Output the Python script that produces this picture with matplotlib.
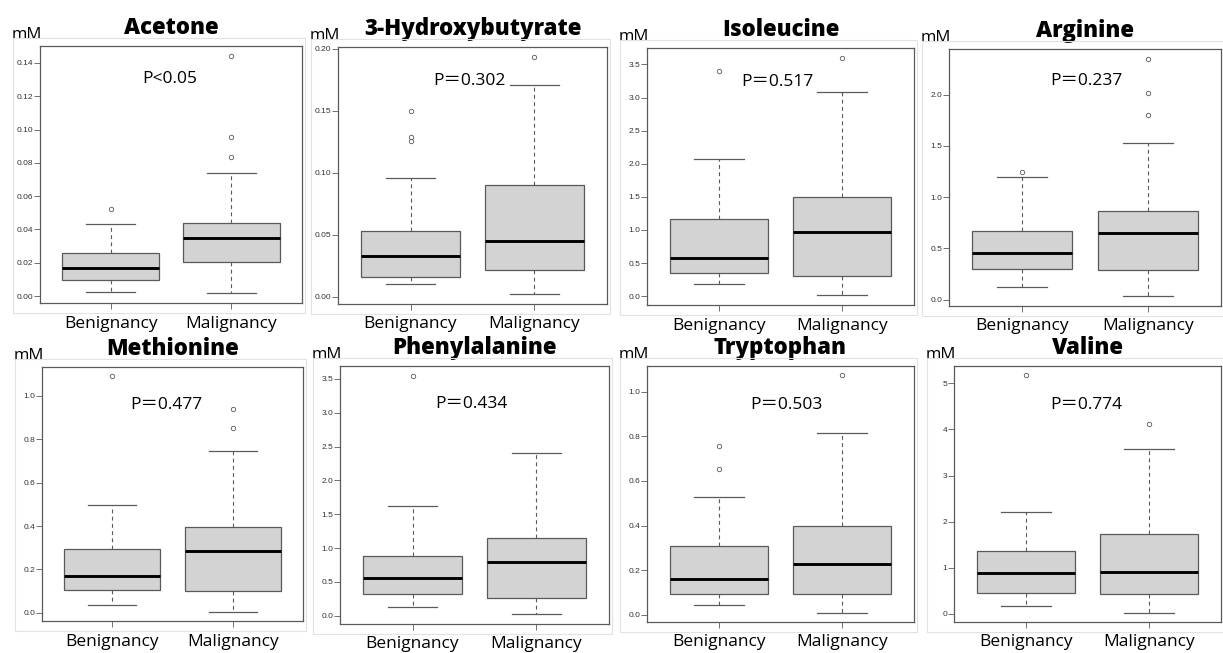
import numpy as np
import matplotlib.pyplot as plt
from matplotlib.patches import Rectangle

# metabolite panels
names = ['Acetone', '3-Hydroxybutyrate', 'Isoleucine', 'Arginine',
         'Methionine', 'Phenylalanine', 'Tryptophan', 'Valine']
p_labels = ['P<0.05', 'P＝0.302', 'P＝0.517', 'P＝0.237',
            'P＝0.477', 'P＝0.434', 'P＝0.503', 'P＝0.774']
groups = ['Benignancy', 'Malignancy']

# lower whisker, Q1, median, Q3, upper whisker (mM)
benign = [
    [0.0026, 0.0094, 0.0166, 0.0256, 0.0432],
    [0.0100, 0.0156, 0.0333, 0.0530, 0.0962],
    [0.176, 0.352, 0.579, 1.158, 2.075],
    [0.123, 0.298, 0.454, 0.668, 1.199],
    [0.037, 0.106, 0.171, 0.294, 0.497],
    [0.133, 0.320, 0.560, 0.890, 1.622],
    [0.045, 0.094, 0.159, 0.307, 0.527],
    [0.181, 0.449, 0.876, 1.353, 2.207],
]
malign = [
    [0.0016, 0.0206, 0.0348, 0.0438, 0.0740],
    [0.0019, 0.0220, 0.0449, 0.0900, 0.1712],
    [0.010, 0.302, 0.972, 1.500, 3.090],
    [0.032, 0.292, 0.652, 0.862, 1.530],
    [0.006, 0.101, 0.286, 0.395, 0.746],
    [0.020, 0.270, 0.800, 1.155, 2.410],
    [0.011, 0.093, 0.228, 0.400, 0.816],
    [0.029, 0.420, 0.905, 1.722, 3.580],
]
benign_out = [[0.0522], [0.126, 0.129, 0.1497], [3.40], [1.245],
              [1.089], [3.55], [0.653, 0.757], [5.17]]
malign_out = [[0.0838, 0.0958, 0.1444], [0.1938], [3.605], [1.806, 2.02, 2.353],
              [0.852, 0.937], [], [1.072], [4.117]]

yticks = [
    [0.00, 0.02, 0.04, 0.06, 0.08, 0.10, 0.12, 0.14],
    [0.00, 0.05, 0.10, 0.15, 0.20],
    [0.0, 0.5, 1.0, 1.5, 2.0, 2.5, 3.0, 3.5],
    [0.0, 0.5, 1.0, 1.5, 2.0],
    [0.0, 0.2, 0.4, 0.6, 0.8, 1.0],
    [0.0, 0.5, 1.0, 1.5, 2.0, 2.5, 3.0, 3.5],
    [0.0, 0.2, 0.4, 0.6, 0.8, 1.0],
    [0, 1, 2, 3, 4, 5],
]
ytick_fmt = ['{:.2f}', '{:.2f}', '{:.1f}', '{:.1f}', '{:.1f}', '{:.1f}', '{:.1f}', '{:.0f}']

# layout: axes box in pixels (left, top, right, bottom) and p-label spot
W, H = 1223, 653
boxes_px = [(40, 46, 302, 303), (338, 47, 607, 304), (647, 48, 914, 305), (949, 49, 1221, 306),
            (42, 367, 303, 621), (340, 366, 609, 624), (647, 366, 914, 622), (954, 366, 1221, 622)]
p_pos = [(0.497, 0.87), (0.49, 0.867), (0.49, 0.869), (0.506, 0.874),
         (0.478, 0.852), (0.489, 0.852), (0.524, 0.846), (0.497, 0.848)]

edge = '#5a5a5a'
fig = plt.figure(figsize=(W / 100, H / 100), dpi=100)

for i, name in enumerate(names):
    l, t, r, b = boxes_px[i]
    ax = fig.add_axes([l / W, 1 - b / H, (r - l) / W, (b - t) / H])

    # faint screenshot frame around each panel
    fig.patches.append(Rectangle(((l - 27) / W, 1 - (b + 10) / H), (r - l + 30) / W,
                                 (b - t + 18) / H, transform=fig.transFigure,
                                 fill=False, ec='#e2e2e2', lw=0.8))

    stats = []
    for s, fl, lab in [(benign[i], benign_out[i], groups[0]),
                       (malign[i], malign_out[i], groups[1])]:
        stats.append(dict(whislo=s[0], q1=s[1], med=s[2], q3=s[3], whishi=s[4],
                          fliers=fl, label=lab))
    ax.bxp(stats, positions=[1, 2], widths=0.8, patch_artist=True,
           boxprops=dict(facecolor='#d3d3d3', edgecolor=edge, lw=0.9),
           medianprops=dict(color='black', lw=2.1),
           whiskerprops=dict(color=edge, lw=0.8, ls=(0, (3.5, 3))),
           capprops=dict(color=edge, lw=0.9),
           flierprops=dict(marker='o', ms=3.2, mfc='none', mec=edge, mew=0.6))

    vals = benign[i] + malign[i] + benign_out[i] + malign_out[i]
    lo, hi = min(vals), max(vals)
    pad = (hi - lo) * 0.04
    ax.set_ylim(lo - pad, hi + pad)
    ax.set_xlim(0.415, 2.585)

    ax.set_yticks(yticks[i])
    ax.set_yticklabels([ytick_fmt[i].format(v) for v in yticks[i]],
                       fontsize=6, family='Liberation Sans', color='#333333')
    ax.set_xticks([1, 2])
    ax.set_xticklabels(groups, fontsize=12.5, family='Open Sans')
    ax.tick_params(axis='y', length=4, width=0.6, color=edge, pad=1)
    ax.tick_params(axis='x', length=4, width=0.6, color=edge, pad=5)
    for sp in ax.spines.values():
        sp.set_color(edge)
        sp.set_linewidth(0.9)

    ax.set_title(name, fontsize=16, fontweight=800, family='Open Sans', pad=8.5)
    ax.annotate('mM', xy=(0, 1), xycoords='axes fraction', xytext=(-28, 7),
                textcoords='offset pixels', fontsize=12, family='Open Sans',
                ha='left', va='baseline')
    ax.text(p_pos[i][0], p_pos[i][1], p_labels[i], transform=ax.transAxes,
            ha='center', va='center', fontsize=12.5,
            family=['Open Sans', 'Noto Sans CJK SC'])

fig.savefig('out.png', dpi=100)
